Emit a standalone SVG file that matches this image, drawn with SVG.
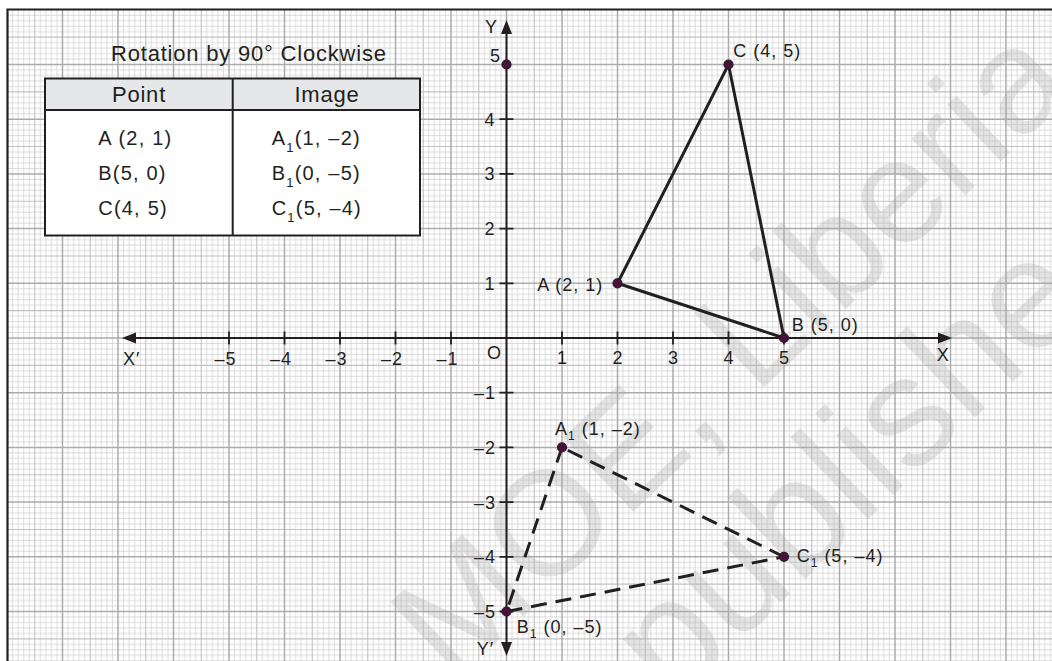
<svg xmlns="http://www.w3.org/2000/svg" width="1052" height="661" viewBox="0 0 1052 661">
<style>
text{font-family:"Liberation Sans",Arial,sans-serif;fill:#231f20}
.ax{font-size:18px;letter-spacing:1px}
.lbl{font-size:18px;letter-spacing:1px}
.sub{font-size:12px}
.tt{font-size:22px;letter-spacing:0.8px}
.td{font-size:20px;letter-spacing:1.2px}
.tsub{font-size:13px}
.wm{font-size:148px;fill:#a8a8a8;fill-opacity:0.3}
.major{stroke:#acacac;stroke-width:1.5;fill:none}
.medium{stroke:#c2c2c2;stroke-width:1.1;fill:none}
.axis{stroke:#231f20;stroke-width:2;fill:none}
.tick{stroke:#231f20;stroke-width:1.8;fill:none}
.arrow{fill:#231f20}
.solid{stroke:#231f20;stroke-width:3;fill:none;stroke-linecap:round}
.dash{stroke:#231f20;stroke-width:3;fill:none;stroke-dasharray:16 9}
.dot{fill:#4b1040;stroke:#231f20;stroke-width:1.2}
</style>
<defs>
<pattern id="fine" patternUnits="userSpaceOnUse" x="7" y="9.8" width="55.5" height="54.7">
<path d="M5.55 0V54.7M11.1 0V54.7M16.65 0V54.7M22.2 0V54.7M33.3 0V54.7M38.85 0V54.7M44.4 0V54.7M49.95 0V54.7M0 5.47H55.5M0 10.94H55.5M0 16.41H55.5M0 21.88H55.5M0 32.82H55.5M0 38.29H55.5M0 43.76H55.5M0 49.23H55.5" stroke="#d3d3d3" stroke-width="0.8" fill="none"/>
</pattern>
</defs>
<rect x="0" y="0" width="1052" height="661" fill="#ffffff"/>
<g id="grid">
<rect x="7" y="9.8" width="1045" height="652" fill="url(#fine)"/>
<path class="medium" d="M34.75 9.8V661M90.25 9.8V661M145.75 9.8V661M201.25 9.8V661M256.75 9.8V661M312.25 9.8V661M367.75 9.8V661M423.25 9.8V661M478.75 9.8V661M534.25 9.8V661M589.75 9.8V661M645.25 9.8V661M700.75 9.8V661M756.25 9.8V661M811.75 9.8V661M867.25 9.8V661M922.75 9.8V661M978.25 9.8V661M1033.75 9.8V661M7 37.15H1052M7 91.85H1052M7 146.55H1052M7 201.25H1052M7 255.95H1052M7 310.65H1052M7 365.35H1052M7 420.05H1052M7 474.75H1052M7 529.45H1052M7 584.15H1052M7 638.85H1052"/>
<path class="major" d="M62.5 9.8V661M118 9.8V661M173.5 9.8V661M229 9.8V661M284.5 9.8V661M340 9.8V661M395.5 9.8V661M451 9.8V661M506.5 9.8V661M562 9.8V661M617.5 9.8V661M673 9.8V661M728.5 9.8V661M784 9.8V661M839.5 9.8V661M895 9.8V661M950.5 9.8V661M1006 9.8V661M7 64.5H1052M7 119.2H1052M7 173.9H1052M7 228.6H1052M7 283.3H1052M7 338H1052M7 392.7H1052M7 447.4H1052M7 502.1H1052M7 556.8H1052M7 611.5H1052"/>
<path d="M7.5 661V9.5H1052" stroke="#231f20" stroke-width="2.2" fill="none"/>
</g>
<g id="watermark">
<text class="wm" transform="translate(343 788) rotate(-43.6)">© MOE, Liberia.</text>
<text class="wm" style="font-size:156px" transform="translate(672 706) rotate(-43.6)">published</text>
</g>
<g id="table">
<text class="tt" x="111" y="60.5">Rotation by 90° Clockwise</text>
<rect x="45" y="78.5" width="375" height="157" fill="#ffffff" stroke="none"/>
<rect x="45" y="78.5" width="375" height="31.5" fill="#e6e7e8"/>
<path d="M45 78.5H420V235.5H45Z M45 110H420 M232.7 78.5V235.5" stroke="#231f20" stroke-width="2" fill="none"/>
<text class="tt" x="139" y="101.5" text-anchor="middle">Point</text>
<text class="tt" x="327" y="101.5" text-anchor="middle">Image</text>
<text class="td" x="98.3" y="145">A (2, 1)</text>
<text class="td" x="98.3" y="180">B(5, 0)</text>
<text class="td" x="98.3" y="215">C(4, 5)</text>
<text class="td" x="271.7" y="145">A<tspan class="tsub" dy="7">1</tspan><tspan dy="-7">(1, –2)</tspan></text>
<text class="td" x="271.7" y="180">B<tspan class="tsub" dy="7">1</tspan><tspan dy="-7">(0, –5)</tspan></text>
<text class="td" x="271.7" y="215">C<tspan class="tsub" dy="7">1</tspan><tspan dy="-7">(5, –4)</tspan></text>
</g>
<g id="axes">
<path class="axis" d="M132 338H942M506.5 30V646"/>
<polygon class="arrow" points="122,338 136,332.5 136,343.5"/>
<polygon class="arrow" points="952,338 938,332.5 938,343.5"/>
<polygon class="arrow" points="506.5,20 501,34 512,34"/>
<polygon class="arrow" points="506.5,656 501,642 512,642"/>
<path class="tick" d="M229 331.5V344.5M284.5 331.5V344.5M340 331.5V344.5M395.5 331.5V344.5M451 331.5V344.5M562 331.5V344.5M617.5 331.5V344.5M673 331.5V344.5M728.5 331.5V344.5M784 331.5V344.5M499.5 119.2H513.5M499.5 173.9H513.5M499.5 228.6H513.5M499.5 283.3H513.5M499.5 392.7H513.5M499.5 447.4H513.5M499.5 502.1H513.5M499.5 556.8H513.5M499.5 611.5H513.5"/>
<text class="ax" x="236.5" y="365" text-anchor="end">–5</text>
<text class="ax" x="292" y="365" text-anchor="end">–4</text>
<text class="ax" x="347.5" y="365" text-anchor="end">–3</text>
<text class="ax" x="403" y="365" text-anchor="end">–2</text>
<text class="ax" x="458.5" y="365" text-anchor="end">–1</text>
<text class="ax" x="562.5" y="364" text-anchor="middle">1</text>
<text class="ax" x="618" y="364" text-anchor="middle">2</text>
<text class="ax" x="673.5" y="364" text-anchor="middle">3</text>
<text class="ax" x="729" y="364" text-anchor="middle">4</text>
<text class="ax" x="784.5" y="364" text-anchor="middle">5</text>
<text class="ax" x="487" y="359">O</text>
<text class="ax" x="501" y="61.5" text-anchor="end">5</text>
<text class="ax" x="495.5" y="125.7" text-anchor="end">4</text>
<text class="ax" x="495.5" y="180.4" text-anchor="end">3</text>
<text class="ax" x="495.5" y="235.1" text-anchor="end">2</text>
<text class="ax" x="495.5" y="289.8" text-anchor="end">1</text>
<text class="ax" x="496" y="399.2" text-anchor="end">–1</text>
<text class="ax" x="496" y="453.9" text-anchor="end">–2</text>
<text class="ax" x="496" y="508.6" text-anchor="end">–3</text>
<text class="ax" x="496" y="563.3" text-anchor="end">–4</text>
<text class="ax" x="496" y="618" text-anchor="end">–5</text>
<text class="ax" x="485" y="33">Y</text>
<text class="ax" x="476.7" y="655">Y′</text>
<text class="ax" x="936.7" y="361">X</text>
<text class="ax" x="123" y="365">X′</text>
</g>
<g id="connectors">
<path class="solid" d="M617.5 283.3L728.5 64.5L784 338L617.5 283.3"/>
<path class="dash" d="M562 447.4L506.5 611.5"/>
<path class="dash" d="M506.5 611.5L784 556.8"/>
<path class="dash" d="M784 556.8L562 447.4"/>
</g>
<g id="point-y5"><circle class="dot" cx="506.5" cy="64.5" r="4.5"/></g>
<g id="point-A"><circle class="dot" cx="617.5" cy="283.3" r="4.5"/><text class="lbl" x="537.3" y="291">A (2, 1)</text></g>
<g id="point-B"><circle class="dot" cx="784" cy="338" r="4.5"/><text class="lbl" x="791.7" y="331">B (5, 0)</text></g>
<g id="point-C"><circle class="dot" cx="728.5" cy="64.5" r="4.5"/><text class="lbl" x="733.3" y="56.5">C (4, 5)</text></g>
<g id="point-A1"><circle class="dot" cx="562" cy="447.4" r="4.5"/><text class="lbl" x="555" y="435">A<tspan class="sub" dy="5">1</tspan><tspan dy="-5"> (1, –2)</tspan></text></g>
<g id="point-B1"><circle class="dot" cx="506.5" cy="611.5" r="4.5"/><text class="lbl" x="516.7" y="633">B<tspan class="sub" dy="5">1</tspan><tspan dy="-5"> (0, –5)</tspan></text></g>
<g id="point-C1"><circle class="dot" cx="784" cy="556.8" r="4.5"/><text class="lbl" x="796.7" y="562">C<tspan class="sub" dy="5">1</tspan><tspan dy="-5"> (5, –4)</tspan></text></g>
</svg>
